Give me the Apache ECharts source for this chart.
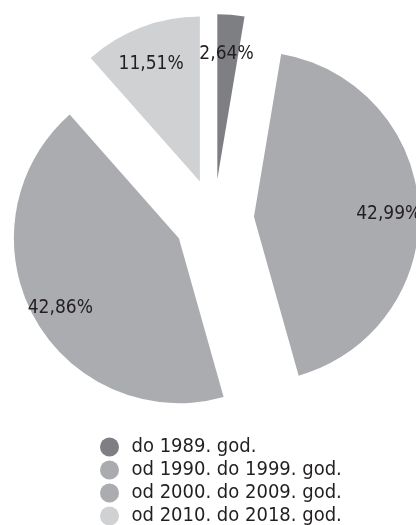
<!DOCTYPE html>
<html>
<head>
<meta charset="utf-8">
<script src="https://cdn.jsdelivr.net/npm/echarts@6/dist/echarts.min.js"></script>
<style>
  html, body { margin: 0; padding: 0; background: #fff; }
  #main { width: 416px; height: 525px; }
</style>
</head>
<body>
<div id="main"></div>
<script>
// razdoblja i udjeli (%)
var periods = ['do 1989. god.', 'od 1990. do 1999. god.', 'od 2000. do 2009. god.', 'od 2010. do 2018. god.'];
var shares = [2.64, 42.99, 42.86, 11.51];
var sliceColors = ['#7e7f83', '#aaabae', '#abacaf', '#d0d1d3'];
// small [dx, dy] shifts for each label
var labelNudge = [[-2, 9], [0, 5], [0, 5], [-1, 9]];

var chart = echarts.init(document.getElementById('main'));

var pieData = periods.map(function (name, i) {
    return { name: name, value: shares[i], selected: true, itemStyle: { color: sliceColors[i] } };
});
// same slices, transparent, only to put the labels further out
var labelData = periods.map(function (name, i) {
    return { name: name, value: shares[i], selected: true };
});

var fmt = function (p) {
    return p.value.toFixed(2).replace('.', ',') + '%';
};

var font = 'DejaVu Sans Condensed';

var option = {
    animation: false,
    legend: {
        data: periods,
        orient: 'vertical',
        left: 95,
        top: 432,
        height: 100,
        icon: 'circle',
        itemWidth: 34,
        itemHeight: 19,
        itemGap: 3,
        selectedMode: false,
        textStyle: { fontFamily: font, fontSize: 20, color: '#231f20' }
    },
    series: [
        {
            type: 'pie',
            center: [214, 219],
            radius: [0, 165],
            startAngle: 90,
            clockwise: true,
            selectedMode: 'multiple',
            selectedOffset: 40,
            label: { show: false },
            labelLine: { show: false },
            emphasis: { disabled: true },
            data: pieData
        },
        {
            type: 'pie',
            center: [214, 219],
            radius: [99, 165],
            startAngle: 90,
            clockwise: true,
            selectedMode: 'multiple',
            selectedOffset: 40,
            silent: true,
            itemStyle: { color: 'rgba(0,0,0,0)' },
            label: {
                show: true,
                position: 'inside',
                formatter: fmt,
                fontFamily: font,
                fontSize: 19,
                color: '#231f20'
            },
            labelLayout: function (p) {
                return { dx: labelNudge[p.dataIndex][0], dy: labelNudge[p.dataIndex][1] };
            },
            labelLine: { show: false },
            emphasis: { disabled: true },
            data: labelData
        }
    ]
};

chart.setOption(option);
</script>
</body>
</html>
